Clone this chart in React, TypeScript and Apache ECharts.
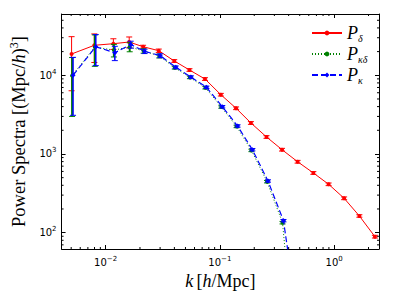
import React, { useEffect, useRef } from "react";
import * as echarts from "echarts";

// ---- data ----
const kDelta = [0.00504, 0.00797, 0.0117, 0.0161, 0.0213, 0.0292, 0.0399, 0.0542, 0.0741, 0.102, 0.1387, 0.187, 0.256, 0.35, 0.479, 0.658, 0.895, 1.223, 1.663, 2.275];
const pDelta = [18660, 24050, 25210, 26480, 23070, 20540, 15200, 11680, 8970, 5670, 3810, 2478, 1645, 1134, 797, 574, 412, 273.5, 163, 89];
const pDeltaErr = [12300, 9500, 3900, 4200, 1000, 1000, 600, 450, 350, 220, 150, 100, 65, 45, 32, 23, 16, 11, 6, 3.5];

const kKappaDelta = [0.00509, 0.00805, 0.01182, 0.01626, 0.02151, 0.02949, 0.0403, 0.0547, 0.0748, 0.103, 0.1401, 0.1889, 0.2586, 0.3535, 0.484];
const pKappaDelta = [9900, 22800, 20900, 22900, 20400, 17600, 12500, 9400, 6950, 3950, 2240, 1110, 445, 134, 1];
const pKappaDeltaErr = [6900, 9800, 3800, 3000, 1300, 1000, 500, 350, 250, 140, 80, 40, 16, 5, 0];

const kKappa = [0.00519, 0.00821, 0.01205, 0.01658, 0.02194, 0.03008, 0.0411, 0.0558, 0.0763, 0.105, 0.1429, 0.1926, 0.2637, 0.3605, 0.493];
const pKappa = [10000, 23070, 19360, 24600, 20180, 17750, 12640, 9500, 7040, 3990, 2270, 1134, 454, 142, 6];
const pKappaErr = [6900, 9800, 4000, 2500, 1300, 1000, 500, 350, 250, 140, 80, 40, 16, 5, 0];

const xMinorTicks = [0.005, 0.006, 0.007, 0.008, 0.009, 0.02, 0.03, 0.04, 0.05, 0.06, 0.07, 0.08, 0.09, 0.2, 0.3, 0.4, 0.5, 0.6, 0.7, 0.8, 0.9, 2];
const yMinorTicks = [70, 80, 90, 200, 300, 400, 500, 600, 700, 800, 900, 2000, 3000, 4000, 5000, 6000, 7000, 8000, 9000, 20000, 30000, 40000, 50000];

const X_MIN = 0.00412;
const X_MAX = 2.47;
const Y_MIN = 62;
const Y_MAX = 60100;

const RED = "#ff0000";
const GREEN = "#008000";
const BLUE = "#0000ff";
const SERIF = "'Liberation Serif', 'DejaVu Serif', serif";
const SANS = "'DejaVu Sans', sans-serif";

function zip(a: number[], b: number[]) {
  return a.map((v, i) => [v, b[i]]);
}
function errRows(k: number[], p: number[], e: number[]) {
  return k.map((v, i) => [v, p[i] - e[i], p[i] + e[i]]);
}

function errorBarSeries(name: string, rows: number[][], color: string, width: number, z: number) {
  return {
    type: "custom",
    name: name + "_err",
    data: rows,
    encode: { x: 0, y: [1, 2] },
    z,
    clip: true,
    renderItem: (params: any, api: any) => {
      const x = api.value(0);
      const lo = api.value(1);
      const hi = api.value(2);
      if (!(hi > lo)) return null;
      const top = api.coord([x, hi]);
      const bot = api.coord([x, Math.max(lo, 1e-3)]);
      const w = 3;
      const st = { stroke: color, lineWidth: width };
      return {
        type: "group",
        children: [
          { type: "line", shape: { x1: top[0], y1: top[1], x2: bot[0], y2: bot[1] }, style: st },
          { type: "line", shape: { x1: top[0] - w, y1: top[1], x2: top[0] + w, y2: top[1] }, style: { stroke: color, lineWidth: 1 } },
          { type: "line", shape: { x1: bot[0] - w, y1: bot[1], x2: bot[0] + w, y2: bot[1] }, style: { stroke: color, lineWidth: 1 } },
        ],
      };
    },
  };
}

const tickLabel = (v: number) => {
  const e = Math.round(Math.log10(v));
  const s = e < 0 ? "\u2212" + Math.abs(e) : String(e);
  return `{b|10}{e|${s}}`;
};
const tickRich = {
  b: { fontFamily: SANS, fontSize: 10, color: "#000" },
  e: { fontFamily: SANS, fontSize: 7, color: "#000", padding: [0, 0, 7, 0] },
};

const legendNames: Record<string, string> = {
  Pd: "{p|P}{s|\u03b4}",
  Pkd: "{p|P}{s|\u03ba\u03b4}",
  Pk: "{p|P}{s|\u03ba}",
};

export default function App() {
  const ref = useRef<HTMLDivElement>(null);
  useEffect(() => {
    if (!ref.current) return;
    const chart = echarts.init(ref.current, undefined, { renderer: "svg" });
    const axisLine = { show: true, onZero: false, lineStyle: { color: "#000", width: 1 } };
    const majorTick = { show: true, inside: true, length: 4, lineStyle: { color: "#000", width: 1 } };
    chart.setOption({
      animation: false,
      backgroundColor: "#fff",
      grid: { left: 52, right: 20, top: 14, bottom: 49, containLabel: false },
      legend: {
        orient: "vertical",
        left: 306,
        top: 19,
        itemWidth: 30,
        itemHeight: 6,
        itemGap: 2,
        data: ["Pd", "Pkd", "Pk"],
        formatter: (n: string) => legendNames[n],
        textStyle: {
          rich: {
            p: { fontFamily: SERIF, fontStyle: "italic", fontSize: 18, color: "#000", lineHeight: 20 },
            s: { fontFamily: SERIF, fontStyle: "italic", fontSize: 10, color: "#000", padding: [10, 0, 0, 0] },
          },
        },
      },
      xAxis: [
        {
          type: "log",
          logBase: 10,
          min: X_MIN,
          max: X_MAX,
          position: "bottom",
          axisLine,
          axisTick: majorTick,
          splitLine: { show: false },
          axisLabel: { show: true, showMinLabel: false, showMaxLabel: false, margin: 6, formatter: tickLabel, rich: tickRich },
          name: "{i|k} {r|[}{i|h}{r|/Mpc]}",
          nameLocation: "middle",
          nameGap: 19,
          nameTextStyle: {
            rich: {
              i: { fontFamily: SERIF, fontStyle: "italic", fontSize: 18, color: "#000" },
              r: { fontFamily: SERIF, fontSize: 18, color: "#000" },
            },
          },
        },
        {
          type: "log",
          logBase: 10,
          min: X_MIN,
          max: X_MAX,
          position: "top",
          axisLine,
          axisTick: majorTick,
          splitLine: { show: false },
          axisLabel: { show: false },
        },
      ],
      yAxis: [
        {
          type: "log",
          logBase: 10,
          min: Y_MIN,
          max: Y_MAX,
          position: "left",
          axisLine,
          axisTick: majorTick,
          splitLine: { show: false },
          axisLabel: { show: true, showMinLabel: false, showMaxLabel: false, margin: 5, formatter: tickLabel, rich: tickRich },
          name: "{r|Power Spectra [(Mpc/}{i|h}{r|)}{e|3}{r|]}",
          nameLocation: "middle",
          nameGap: 27,
          nameRotate: 90,
          nameTextStyle: {
            rich: {
              i: { fontFamily: SERIF, fontStyle: "italic", fontSize: 18.5, color: "#000" },
              r: { fontFamily: SERIF, fontSize: 18.5, color: "#000" },
              e: { fontFamily: SERIF, fontSize: 12, color: "#000", padding: [0, 0, 10, 0] },
            },
          },
        },
        {
          type: "log",
          logBase: 10,
          min: Y_MIN,
          max: Y_MAX,
          position: "right",
          axisLine,
          axisTick: majorTick,
          splitLine: { show: false },
          axisLabel: { show: false },
        },
      ],
      series: [
        {
          type: "custom",
          name: "xminor",
          data: xMinorTicks.map((v) => [v, 100]),
          encode: { x: 0, y: 1 },
          silent: true,
          z: 1,
          renderItem: (params: any, api: any) => {
            const cs = params.coordSys;
            const p = api.coord([api.value(0), 100]);
            const st = { stroke: "#000", lineWidth: 1 };
            return {
              type: "group",
              children: [
                { type: "line", shape: { x1: p[0], y1: cs.y + cs.height, x2: p[0], y2: cs.y + cs.height - 2 }, style: st },
                { type: "line", shape: { x1: p[0], y1: cs.y, x2: p[0], y2: cs.y + 2 }, style: st },
              ],
            };
          },
        },
        {
          type: "custom",
          name: "yminor",
          data: yMinorTicks.map((v) => [0.01, v]),
          encode: { x: 0, y: 1 },
          silent: true,
          z: 1,
          renderItem: (params: any, api: any) => {
            const cs = params.coordSys;
            const p = api.coord([0.01, api.value(1)]);
            const st = { stroke: "#000", lineWidth: 1 };
            return {
              type: "group",
              children: [
                { type: "line", shape: { x1: cs.x, y1: p[1], x2: cs.x + 2, y2: p[1] }, style: st },
                { type: "line", shape: { x1: cs.x + cs.width, y1: p[1], x2: cs.x + cs.width - 2, y2: p[1] }, style: st },
              ],
            };
          },
        },
        errorBarSeries("Pd", errRows(kDelta, pDelta, pDeltaErr), RED, 1, 2),
        {
          type: "line",
          name: "Pd",
          data: zip(kDelta, pDelta),
          symbol: "circle",
          symbolSize: 4,
          showSymbol: true,
          color: RED,
          lineStyle: { color: RED, width: 1 },
          itemStyle: { color: RED },
          z: 3,
        },
        errorBarSeries("Pkd", errRows(kKappaDelta, pKappaDelta, pKappaDeltaErr), GREEN, 2, 4),
        {
          type: "line",
          name: "Pkd",
          data: zip(kKappaDelta, pKappaDelta),
          symbol: "circle",
          symbolSize: 4,
          showSymbol: true,
          color: GREEN,
          lineStyle: { color: GREEN, width: 1, type: [1, 2] },
          itemStyle: { color: GREEN },
          z: 5,
        },
        errorBarSeries("Pk", errRows(kKappa, pKappa, pKappaErr), BLUE, 1.5, 6),
        {
          type: "line",
          name: "Pk",
          data: zip(kKappa, pKappa),
          symbol: "diamond",
          symbolSize: 5,
          showSymbol: true,
          color: BLUE,
          lineStyle: { color: BLUE, width: 1.2, type: [6, 3] },
          itemStyle: { color: BLUE },
          z: 7,
        },
      ],
    });
    return () => chart.dispose();
  }, []);
  return <div ref={ref} style={{ position: "absolute", left: 0, top: 0, width: 399, height: 298 }} />;
}
